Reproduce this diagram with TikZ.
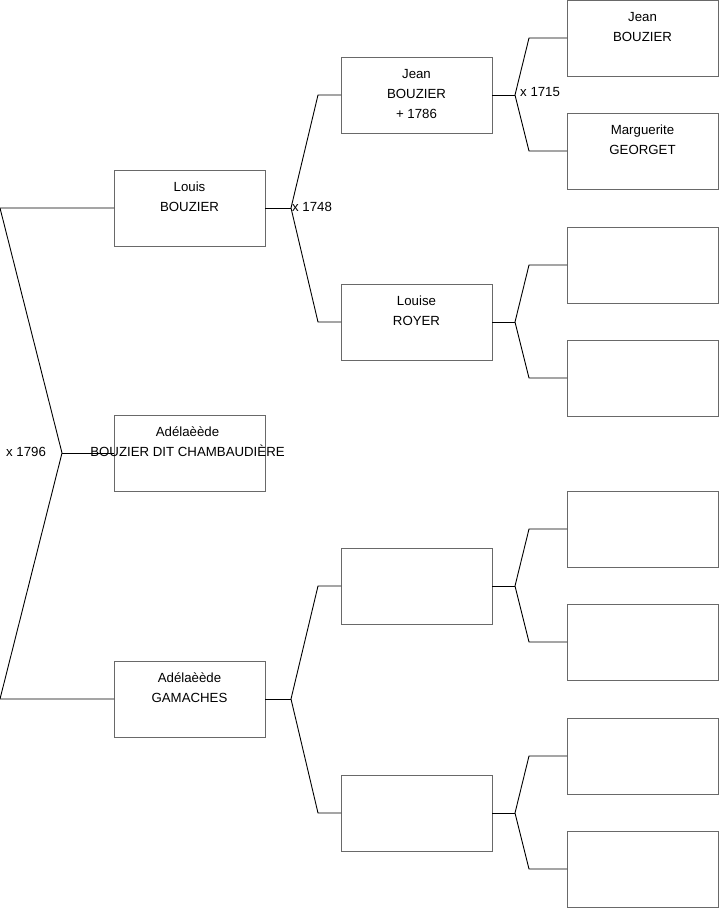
\documentclass[tikz,border=0pt]{standalone}
\usepackage{fontspec}
\setmainfont{Liberation Sans}
\definecolor{boxgray}{RGB}{105,105,105}
\begin{document}
\begin{tikzpicture}[x=1pt,y=-1pt,
  box/.style={draw=boxgray, line width=1pt, minimum width=151pt, minimum height=76pt, inner sep=0pt, outer sep=0pt, anchor=north west},
  txt/.style={anchor=north, inner sep=0pt, align=center, font=\fontsize{13.25}{20}\selectfont, yshift=-7pt},
  conn/.style={draw=black, line width=0.9pt},
  lab/.style={anchor=west, inner sep=0pt, font=\fontsize{13.25}{16}\selectfont}]
\useasboundingbox (0,0) rectangle (719,908);

% column 1
\node[box] (c1a) at (114,170) {};
\node[box] (c1b) at (114,415) {};
\node[box] (c1c) at (114,661) {};
% column 2
\node[box] (c2a) at (341,57) {};
\node[box] (c2b) at (341,284) {};
\node[box] (c2c) at (341,548) {};
\node[box] (c2d) at (341,775) {};
% column 3
\node[box] (c3a) at (567,0) {};
\node[box] (c3b) at (567,113) {};
\node[box] (c3c) at (567,227) {};
\node[box] (c3d) at (567,340) {};
\node[box] (c3e) at (567,491) {};
\node[box] (c3f) at (567,604) {};
\node[box] (c3g) at (567,718) {};
\node[box] (c3h) at (567,831) {};

% junction coordinates
\coordinate (L1) at (0,208);
\coordinate (L2) at (62,453);
\coordinate (L3) at (0,699);

\coordinate (ja) at (291,208);
\coordinate (ua) at (318,95);
\coordinate (da) at (318,322);

\coordinate (jb) at (291,699);
\coordinate (ub) at (318,586);
\coordinate (db) at (318,813);

\coordinate (k1) at (515,95);  \coordinate (k1u) at (529,38);  \coordinate (k1d) at (529,151);
\coordinate (k2) at (515,322); \coordinate (k2u) at (529,265); \coordinate (k2d) at (529,378);
\coordinate (k3) at (515,586); \coordinate (k3u) at (529,529); \coordinate (k3d) at (529,642);
\coordinate (k4) at (515,813); \coordinate (k4u) at (529,756); \coordinate (k4d) at (529,869);

% connectors
\draw[conn] (c1a.west) -- (L1) -- (L2) -- (L3) -- (c1c.west);
\draw[conn] (L2) -- (c1b.west);

\draw[conn] (c1a.east) -- (ja);
\draw[conn] (c2a.west) -- (ua) -- (ja) -- (da) -- (c2b.west);
\draw[conn] (c1c.east) -- (jb);
\draw[conn] (c2c.west) -- (ub) -- (jb) -- (db) -- (c2d.west);

\draw[conn] (c2a.east) -- (k1);
\draw[conn] (c3a.west) -- (k1u) -- (k1) -- (k1d) -- (c3b.west);
\draw[conn] (c2b.east) -- (k2);
\draw[conn] (c3c.west) -- (k2u) -- (k2) -- (k2d) -- (c3d.west);
\draw[conn] (c2c.east) -- (k3);
\draw[conn] (c3e.west) -- (k3u) -- (k3) -- (k3d) -- (c3f.west);
\draw[conn] (c2d.east) -- (k4);
\draw[conn] (c3g.west) -- (k4u) -- (k4) -- (k4d) -- (c3h.west);

% labels
\node[lab] (m1) at (6,451.5) {x 1796};
\node[lab] (m2) at (292,207) {x 1748};
\node[lab] (m3) at (520,92) {x 1715};

% texts
\node[txt] (t1a) at (c1a.north) {\strut Louis\\\strut BOUZIER};
\node[txt] (t1b) at ([xshift=-2pt]c1b.north) {\strut Adélaèède\\\strut BOUZIER DIT CHAMBAUDIÈRE};
\node[txt] (t1c) at (c1c.north) {\strut Adélaèède\\\strut GAMACHES};
\node[txt] (t2a) at (c2a.north) {\strut Jean\\\strut BOUZIER\\\strut + 1786};
\node[txt] (t2b) at (c2b.north) {\strut Louise\\\strut ROYER};
\node[txt] (t3a) at (c3a.north) {\strut Jean\\\strut BOUZIER};
\node[txt] (t3b) at (c3b.north) {\strut Marguerite\\\strut GEORGET};
\end{tikzpicture}
\end{document}
